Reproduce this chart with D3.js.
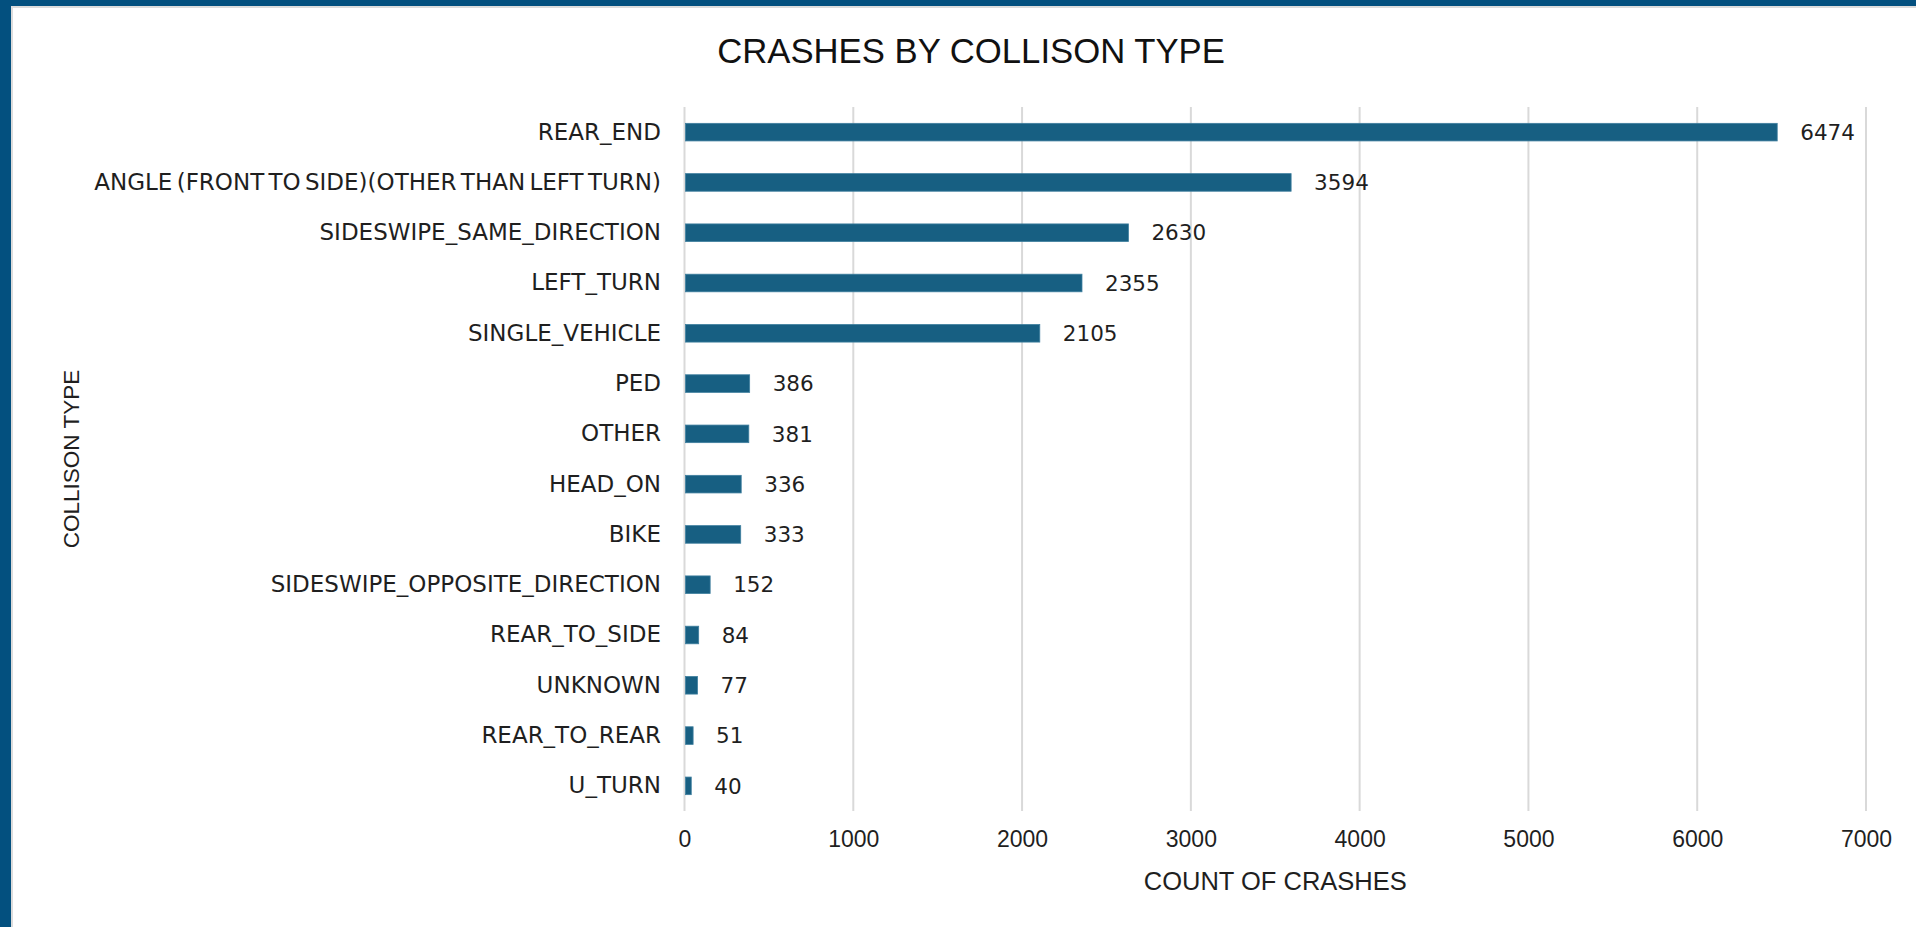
<!DOCTYPE html>
<html>
<head>
<meta charset="utf-8">
<script src="https://cdn.jsdelivr.net/npm/d3@7"></script>
<style>
  html, body { margin: 0; padding: 0; background: #ffffff; }
  svg { display: block; }
</style>
</head>
<body>
<svg id="chart" width="1916" height="927"></svg>
<script>
// Crash counts by collision type, largest first
const categories = [
  "REAR_END",
  "ANGLE (FRONT TO SIDE)(OTHER THAN LEFT TURN)",
  "SIDESWIPE_SAME_DIRECTION",
  "LEFT_TURN",
  "SINGLE_VEHICLE",
  "PED",
  "OTHER",
  "HEAD_ON",
  "BIKE",
  "SIDESWIPE_OPPOSITE_DIRECTION",
  "REAR_TO_SIDE",
  "UNKNOWN",
  "REAR_TO_REAR",
  "U_TURN"
];
const crashCounts = [6474, 3594, 2630, 2355, 2105, 386, 381, 336, 333, 152, 84, 77, 51, 40];
const xTicks = [0, 1000, 2000, 3000, 4000, 5000, 6000, 7000];
const chartTitle = "CRASHES BY COLLISON TYPE";
const xTitle = "COUNT OF CRASHES";
const yTitle = "COLLISON TYPE";

const data = categories.map((c, i) => ({ category: c, value: crashCounts[i] }));

const svg = d3.select("#chart");
const W = 1916, H = 927;

// frame: dark blue band along top and left, with a thin grey inner edge
svg.append("rect").attr("x", 0).attr("y", 0).attr("width", W).attr("height", H).attr("fill", "#ffffff");
svg.append("rect").attr("x", 0).attr("y", 0).attr("width", W).attr("height", 6).attr("fill", "#03507f");
svg.append("rect").attr("x", 0).attr("y", 0).attr("width", 11).attr("height", H).attr("fill", "#03507f");
svg.append("rect").attr("x", 11).attr("y", 6).attr("width", W - 11).attr("height", 2).attr("fill", "#dcdcdc");
svg.append("rect").attr("x", 11).attr("y", 6).attr("width", 2).attr("height", H - 6).attr("fill", "#dcdcdc");

const plot = { left: 684.5, right: 1866, top: 107, bottom: 811 };

const x = d3.scaleLinear().domain([0, 7000]).range([plot.left, plot.right]);
const y = d3.scaleBand().domain(categories).range([plot.top, plot.bottom]).paddingInner(0.65).paddingOuter(0.325);

// vertical gridlines
svg.append("g")
  .selectAll("line")
  .data(xTicks)
  .join("line")
  .attr("x1", d => x(d)).attr("x2", d => x(d))
  .attr("y1", plot.top).attr("y2", plot.bottom)
  .attr("stroke", "#d9d9d9")
  .attr("stroke-width", 2);

// x axis tick labels
const xAxis = d3.axisBottom(x).tickValues(xTicks).tickSize(0).tickPadding(0).tickFormat(d3.format("d"));
const gx = svg.append("g").attr("transform", `translate(0, ${plot.bottom + 20})`).call(xAxis);
gx.select(".domain").remove();
gx.selectAll("text")
  .attr("dy", "0.71em")
  .attr("font-family", "'Liberation Sans', Arial, sans-serif")
  .attr("font-size", 23)
  .attr("fill", "#1f1f1f");

// category labels
const yAxis = d3.axisLeft(y).tickSize(0).tickPadding(0);
const gy = svg.append("g").attr("transform", `translate(661, 0)`).call(yAxis);
gy.select(".domain").remove();
gy.selectAll("text")
  .attr("font-family", "'DejaVu Sans', sans-serif")
  .attr("font-size", 23)
  .attr("word-spacing", -3)
  .attr("fill", "#1f1f1f");

// bars
svg.append("g")
  .selectAll("rect")
  .data(data)
  .join("rect")
  .attr("x", x(0) + 1)
  .attr("y", d => y(d.category))
  .attr("width", d => x(d.value) - x(0) - 1)
  .attr("height", y.bandwidth())
  .attr("fill", "#175f82")
  .attr("stroke", "#3f7f9f")
  .attr("stroke-width", 0.8);

// value labels
svg.append("g")
  .selectAll("text")
  .data(data)
  .join("text")
  .attr("x", d => x(d.value) + 23)
  .attr("y", d => y(d.category) + y.bandwidth() / 2)
  .attr("dy", "0.36em")
  .attr("font-family", "'DejaVu Sans', sans-serif")
  .attr("font-size", 21.5)
  .attr("fill", "#1f1f1f")
  .text(d => d.value);

// titles
svg.append("text")
  .attr("x", 971).attr("y", 63)
  .attr("text-anchor", "middle")
  .attr("font-family", "'Liberation Sans', Arial, sans-serif")
  .attr("font-size", 34.7)
  .attr("fill", "#111111")
  .text(chartTitle);

svg.append("text")
  .attr("x", (plot.left + plot.right) / 2).attr("y", 890)
  .attr("text-anchor", "middle")
  .attr("font-family", "'Liberation Sans', Arial, sans-serif")
  .attr("font-size", 25.5)
  .attr("fill", "#1f1f1f")
  .text(xTitle);

svg.append("text")
  .attr("transform", `translate(79, ${(plot.top + plot.bottom) / 2}) rotate(-90)`)
  .attr("text-anchor", "middle")
  .attr("font-family", "'Liberation Sans', Arial, sans-serif")
  .attr("font-size", 22.5)
  .attr("fill", "#1f1f1f")
  .text(yTitle);
</script>
</body>
</html>
